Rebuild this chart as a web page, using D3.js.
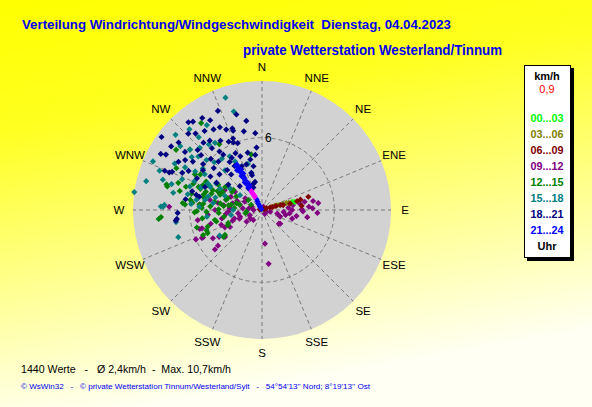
<!DOCTYPE html>
<html><head><meta charset="utf-8">
<script src="https://cdn.jsdelivr.net/npm/d3@7"></script>
<style>html,body{margin:0;padding:0;overflow:hidden;}svg{display:block;font-family:"Liberation Sans",Arial,sans-serif;}</style>
</head><body>
<svg id="c" width="592" height="407"></svg>
<script>
// ---- data ----
const title1 = "Verteilung Windrichtung/Windgeschwindigkeit  Dienstag, 04.04.2023";
const title2 = "private Wetterstation Westerland/Tinnum";
const statsText = "1440 Werte   -   Ø 2,4km/h  -  Max. 10,7km/h";
const footerText = "© WsWin32   -   © private Wetterstation Tinnum/Westerland/Sylt   -   54°54'13'' Nord; 8°19'13'' Ost";
const directions = ["N","NNE","NE","ENE","E","ESE","SE","SSE","S","SSW","SW","WSW","W","WNW","NW","NNW"];
const maxSpeed = 10.7;
const ringTicks = [6];
const currentSpeed = "0,9";
const hourLabels = ["00...03","03...06","06...09","09...12","12...15","15...18","18...21","21...24"];
const hourColors = ["#00ff00","#808000","#800000","#800080","#008000","#008080","#000080","#0000ff"];

// [direction in degrees, speed km/h]
const h0003 = [[75,2.6],[76,2.8]];
const h0306 = [[72,0.8],[72,1.1],[73,1.3],[74,1.5],[74,1.8],[74,2.1],[75,2.3]];
const h0609 = [[63,0.2],[68,0.4],[73,0.7],[75,0.9],[74,1.2],[75,1.6],[77,1.8],[77,2.4],[76,3.0],[75,3.3],[84,3.3],[74,4.0],[289,0.2]];
const h0912 = [[81,2.6],[81,3.2],[89,3.3],[86,3.9],[90,2.5],[102,2.0],[100,2.9],[95,1.8],[103,1.3],[102,0.7],[127,1.9],[145,0.4],
  [247,1.1],[253,1.9],[253,2.4],[277,1.1],[83,4.7],[92,3.4],[97,2.3],[129,1.8],[235,1.2],[249,2.0],[262,2.0],[273,2.7],[277,3.2],
  [270,3.9],[265,4.5],[261,5.4],[275,5.2],[292,3.8],[304,2.7],[305,1.7],[275,1.6],[270,0.7],[281,4.4],[286,3.1],[283,2.5],
  [175,2.8],[173,4.5],[233,1.6],[242,3.0],[250,3.6],[234,3.8],[240,4.7],[245,5.4],[231,4.7],[230,5.1],[253,5.2],[253,5.4],
  [288,0.9],[22,0.3],[245,5.5],[110,0.4],[221,1.1],[267,2.8],[272,7.7],[298,3.5],[293,2.8],[296,1.6],[279,3.7],[88,4.2],[79,3.6],[106,2.6],
  [258,3.4],[264,3.0],[250,2.6],[245,3.4],[238,4.2],[284,1.9],[290,2.2],[80,4.3],[85,2.2],[93,4.6],[99,3.8],[110,1.6],[255,4.4],[246,6.0]];
const h1215 = [[325,8.8],[305,8.7],[310,7.8],[284,8.1],[288,7.3],[298,6.3],[289,5.4],[288,4.9],[274,6.4],[276,5.8],[276,4.9],
  [290,3.7],[286,3.1],[301,2.9],[288,4.4],[349,4.7],[327,6.5],[285,8.2],[275,6.6],[283,6.0],[269,5.4],[282,4.9],[274,4.3],
  [258,4.0],[279,3.5],[274,2.3],[283,1.9],[264,1.3],[265,8.6],[293,5.3],[292,4.4],[305,2.9],[250,4.9],[256,3.9],[300,5.9],
  [296,7.9],[291,6.1],[295,3.6],[298,2.4],[306,1.4],[296,1.0],[268,5.6],[275,5.2],[246,3.1],[247,4.9],[235,3.9],[285,2.2],
  [259,1.4],[278,2.8],[266,3.6],[266,8.4],[247,5.3],[236,3.7],[249,3.0],[253,4.7],
  [280,4.0],[285,5.0],[290,5.6],[295,4.8],[300,4.2],[278,6.0],[283,7.0],[272,5.0],[268,4.6],[262,5.0],[287,6.6],[293,4.0],
  [280,2.6],[276,3.2],[297,5.2],[289,3.0],[271,3.6],[260,3.2],[255,5.6],[302,3.6]];
const h1518 = [[342,9.8],[344,8.5],[327,8.4],[318,9.0],[311,9.5],[319,8.0],[321,7.0],[294,9.9],[291,9.1],[310,7.8],[315,7.3],
  [307,7.3],[310,6.9],[322,5.4],[329,5.2],[317,4.5],[331,4.6],[284,9.9],[287,8.6],[281,7.5],[272,8.2],[291,7.1],[288,6.3],
  [293,6.1],[294,4.7],[297,3.9],[304,3.2],[282,6.3],[279,5.5],[284,4.6],[278,4.1],[278,10.7],[344,3.2],[343,4.0],[272,8.4],
  [252,7.3],[262,7.2],[275,5.9],[273,5.2],[263,4.6],[239,4.1],[261,2.6],[270,2.4],[273,8.1],[302,5.6],[299,7.3],[304,2.2],[291,3.3],
  [296,5.0],[300,6.4],[305,6.0],[290,5.4],[286,7.8],[298,8.2],[312,6.2],[308,8.6],[285,4.0],[280,4.8],[315,5.6],[325,6.8],[300,4.4]];
const h1821 = [[336,9.0],[320,9.5],[322,9.3],[306,10.3],[309,8.9],[319,8.4],[324,8.1],[329,7.8],[333,7.7],[336,7.3],[340,7.0],
  [347,6.7],[355,6.4],[319,7.4],[323,7.2],[329,6.7],[334,6.3],[340,5.9],[305,9.2],[299,9.6],[300,9.2],[307,8.0],[313,7.3],
  [321,6.6],[324,6.0],[335,5.2],[338,4.8],[346,4.9],[347,4.3],[303,7.6],[305,7.0],[293,8.1],[292,8.3],[298,6.9],[304,5.9],
  [311,5.3],[319,4.4],[328,4.3],[335,4.0],[296,6.0],[303,5.1],[310,4.6],[319,3.9],[331,3.2],[344,3.0],[292,5.1],[301,4.4],
  [307,3.5],[317,2.7],[328,2.1],[342,2.3],[285,6.0],[282,5.3],[292,8.7],[295,7.3],[283,5.6],[278,6.4],[263,7.2],[268,7.0],
  [264,7.1],[327,9.1],[340,7.2],[337,6.1],[355,5.2],[353,4.6],[349,3.7],[344,3.2],[346,2.4],[339,2.0],[341,4.0],
  [315,6.0],[318,5.4],[325,5.6],[330,5.0],[312,6.8],[316,8.8],[330,8.6],[345,8.2],[350,7.5],[338,6.4],[326,4.8],[333,3.8],[308,6.2],[300,8.0]];
const h2124 = [[331,4.3],[330,4.2],[331,4.0],[332,3.8],[330,3.7],[331,3.5],[329,3.3],[330,3.1],[331,3.0],[330,2.8],[332,2.6],
  [330,2.4],[329,2.2],[331,2.1],[330,1.9],[333,1.0],[332,0.8],[330,0.6],[331,0.4],[329,0.3],[330,0.1],[328,3.9],[333,3.4],[328,2.7],[333,2.3]];
const hCurrent = [[331,1.8],[330,1.65],[331,1.5],[332,1.35],[331,1.25]];
const currentColor = "#ff00ff";

// ---- drawing ----
const svg = d3.select("#c");
const W = 592, H = 407;
const defs = svg.append("defs");
const grad = defs.append("linearGradient").attr("id","bg").attr("x1","0").attr("y1","0").attr("x2","0.25").attr("y2","1");
grad.append("stop").attr("offset","0").attr("stop-color","#ffff00");
grad.append("stop").attr("offset","0.3").attr("stop-color","#ffff20");
grad.append("stop").attr("offset","1").attr("stop-color","#fffff4");
svg.append("rect").attr("width",W).attr("height",H).attr("fill","url(#bg)");

const cx = 262, cy = 210, R = 129;
const r = d3.scaleLinear().domain([0, maxSpeed]).range([0, R]);
const ang = d3.scaleLinear().domain([0, 360]).range([0, 2*Math.PI]);
const px = (d) => cx + r(d[1]) * Math.sin(ang(d[0]));
const py = (d) => cy - r(d[1]) * Math.cos(ang(d[0]));

const g = svg.append("g");
g.append("circle").attr("cx",cx).attr("cy",cy).attr("r",R).attr("fill","#d2d2d2");

// radial grid
const dirAngles = directions.map((d,i)=>i*360/directions.length);
g.selectAll("line.rad").data(dirAngles).join("line")
  .attr("x1",cx).attr("y1",cy)
  .attr("x2",d=>px([d,maxSpeed])).attr("y2",d=>py([d,maxSpeed]))
  .attr("stroke","#7a7a7a").attr("stroke-width",1).attr("stroke-dasharray","4,3");
g.selectAll("circle.ring").data(ringTicks).join("circle")
  .attr("cx",cx).attr("cy",cy).attr("r",d=>r(d))
  .attr("fill","none").attr("stroke","#7a7a7a").attr("stroke-dasharray","4,3");
g.selectAll("text.ring").data(ringTicks).join("text")
  .attr("x",cx+3).attr("y",d=>cy-r(d)).attr("dy","0.35em")
  .attr("font-size",12).attr("fill","#000").text(d=>d);

// direction labels
const labR = 143;
g.selectAll("text.dir").data(directions).join("text")
  .attr("x",(d,i)=>cx + labR*Math.sin(ang(dirAngles[i])))
  .attr("y",(d,i)=>cy - labR*Math.cos(ang(dirAngles[i])))
  .attr("text-anchor","middle").attr("dy","0.36em")
  .attr("font-size",11.5).attr("fill","#000").text(d=>d);

// points
const sym = d3.symbol(d3.symbolSquare, 19);
const drawOrder = [
  {data:h0912, color:hourColors[3]},
  {data:h1215, color:hourColors[4]},
  {data:h1518, color:hourColors[5]},
  {data:h1821, color:hourColors[6]},
  {data:h0003, color:hourColors[0]},
  {data:h0306, color:hourColors[1]},
  {data:h0609, color:hourColors[2]},
  {data:h2124, color:hourColors[7]},
  {data:hCurrent, color:currentColor}
];
drawOrder.forEach(s=>{
  g.append("g").selectAll("path").data(s.data).join("path")
    .attr("d",sym)
    .attr("transform",d=>`translate(${px(d)},${py(d)}) rotate(45)`)
    .attr("fill",s.color);
});

// titles
svg.append("text").attr("x",22).attr("y",29).attr("font-size",13.5).attr("font-weight","bold")
  .attr("fill","#0000ee").attr("textLength",429).attr("lengthAdjust","spacingAndGlyphs")
  .style("white-space","pre").text(title1);
svg.append("text").attr("x",243).attr("y",54.5).attr("font-size",14).attr("font-weight","bold")
  .attr("fill","#0000ee").attr("textLength",259).attr("lengthAdjust","spacingAndGlyphs").text(title2);

// legend
const lg = svg.append("g");
lg.append("rect").attr("x",527).attr("y",68).attr("width",47).attr("height",193).attr("fill","#000");
lg.append("rect").attr("x",524.5).attr("y",65.5).attr("width",46).attr("height",192).attr("fill","#fff").attr("stroke","#000").attr("stroke-width",1);
const lx = 547;
lg.append("text").attr("x",lx).attr("y",75.7).attr("dy","0.35em").attr("text-anchor","middle")
  .attr("font-size",11).attr("font-weight","bold").text("km/h");
lg.append("text").attr("x",lx).attr("y",89.5).attr("dy","0.35em").attr("text-anchor","middle")
  .attr("font-size",11).attr("fill","#ff0000").text(currentSpeed);
const lsy = d3.scaleLinear().domain([0,7]).range([117.7,229.7]);
lg.selectAll("text.hr").data(hourLabels).join("text")
  .attr("x",lx).attr("y",(d,i)=>lsy(i)).attr("dy","0.35em").attr("text-anchor","middle")
  .attr("font-size",11).attr("font-weight","bold").attr("fill",(d,i)=>hourColors[i])
  .attr("textLength",33).attr("lengthAdjust","spacingAndGlyphs").text(d=>d);
lg.append("text").attr("x",lx).attr("y",245.7).attr("dy","0.35em").attr("text-anchor","middle")
  .attr("font-size",11).attr("font-weight","bold").text("Uhr");

// bottom texts
svg.append("text").attr("x",21).attr("y",372.7).attr("font-size",11).attr("fill","#000")
  .attr("textLength",210).attr("lengthAdjust","spacingAndGlyphs").style("white-space","pre").text(statsText);
svg.append("text").attr("x",21).attr("y",388.7).attr("font-size",7.5).attr("fill","#0000ee")
  .attr("textLength",349).attr("lengthAdjust","spacingAndGlyphs").style("white-space","pre").text(footerText);
</script>
</body></html>
